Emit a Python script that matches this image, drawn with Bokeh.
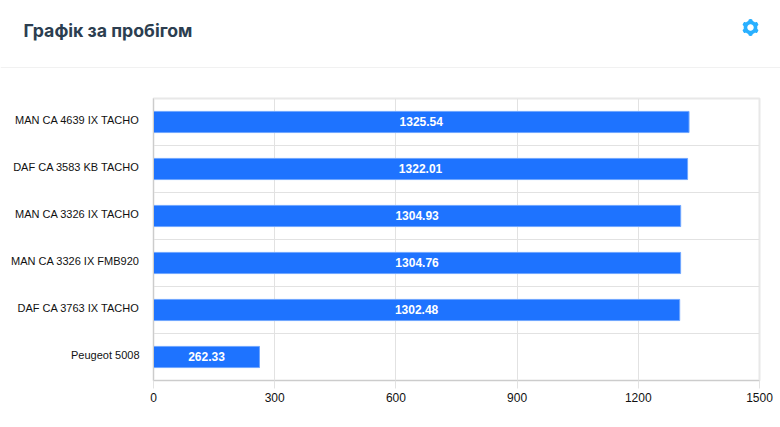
import numpy as np
from bokeh.plotting import figure
from bokeh.layouts import column
from bokeh.models import ColumnDataSource, Range1d, FixedTicker
from bokeh.core.properties import value
from bokeh.embed import file_html
from bokeh.resources import INLINE

vehicles = ["MAN CA 4639 IX TACHO", "DAF CA 3583 KB TACHO", "MAN CA 3326 IX TACHO",
            "MAN CA 3326 IX FMB920", "DAF CA 3763 IX TACHO", "Peugeot 5008"]
mileage = [1325.54, 1322.01, 1304.93, 1304.76, 1302.48, 262.33]
x_ticks = [0, 300, 600, 900, 1200, 1500]
band_edges = [-0.5, 0.5, 1.5, 2.5, 3.5, 4.5, 5.5]
title = "Графік за пробігом"

# header strip: its ranges are in pixels of the strip
h = figure(width=780, height=68, output_backend="svg", toolbar_location=None,
           x_range=Range1d(0, 780), y_range=Range1d(68, 0),
           min_border=0, x_axis_location=None, y_axis_location=None)
h.grid.visible = False
h.outline_line_color = None
h.text(x=[23], y=[30], text=[title], text_font=value("Inter"), text_font_style="bold",
       text_font_size="17.7px", text_color="#2c3e50", text_align="left", text_baseline="middle")
h.segment(x0=[0], x1=[780], y0=[67.5], y1=[67.5], line_color="#e2e2e2", line_width=1)
cx, cy = 750, 27
ang = np.linspace(0, 2 * np.pi, 361)
rad = 7.6 + 0.8 * np.clip(np.cos(6 * ang) * 2, -1, 1)
h.patch(cx + rad * np.sin(ang), cy + rad * np.cos(ang), fill_color="#29b0ff", line_color=None)
h.patch(cx + 3.2 * np.sin(ang), cy + 3.2 * np.cos(ang), fill_color="white", line_color=None)

pos = list(range(len(vehicles)))
label_shift = 0.04
src = ColumnDataSource(dict(y=pos, v=mileage, mid=[m / 2 for m in mileage],
                            lab=[f"{m:.2f}" for m in mileage]))

p = figure(width=780, height=359, output_backend="svg", toolbar_location=None,
           x_range=Range1d(0, 1500), y_range=Range1d(5.5, -0.5),
           min_border_left=153, min_border_right=21, min_border_top=30, min_border_bottom=47)
p.background_fill_color = "white"
p.outline_line_color = "#e8e8e8"
p.outline_line_width = 2

p.xgrid.ticker = FixedTicker(ticks=x_ticks)
p.ygrid.ticker = FixedTicker(ticks=band_edges)
p.xgrid.grid_line_color = "#e2e2e2"
p.ygrid.grid_line_color = "#e2e2e2"

p.xaxis.ticker = FixedTicker(ticks=x_ticks)
p.xaxis.axis_line_color = "#cccccc"
p.xaxis.major_tick_line_color = "#e2e2e2"
p.xaxis.major_tick_out = 8
p.xaxis.major_tick_in = 0
p.xaxis.minor_tick_line_color = None
p.xaxis.major_label_text_font = "Liberation Sans"
p.xaxis.major_label_text_font_size = "12px"
p.xaxis.major_label_text_color = "#111111"
p.xaxis.major_label_standoff = 4

label_ticks = [i - label_shift for i in pos]
p.yaxis.ticker = FixedTicker(ticks=label_ticks)
p.yaxis.major_label_overrides = {t: v for t, v in zip(label_ticks, vehicles)}
p.yaxis.axis_line_color = "#cccccc"
p.yaxis.major_tick_line_color = None
p.yaxis.minor_tick_line_color = None
p.yaxis.major_label_text_font = "Liberation Sans"
p.yaxis.major_label_text_font_size = "11px"
p.yaxis.major_label_text_color = "#111111"
p.yaxis.major_label_standoff = 8

p.hbar(y="y", left=0, right="v", height=0.45, source=src,
       fill_color="#1e73ff", line_color="#6fa6ff", line_width=1)
p.text(x="mid", y="y", text="lab", source=src, text_color="white",
       text_font=value("Liberation Sans"), text_font_style="bold", text_font_size="12px",
       text_align="center", text_baseline="middle", y_offset=-1)

layout = column(column(h), p, spacing=0)
open("out.html", "w").write(file_html(layout, INLINE))
